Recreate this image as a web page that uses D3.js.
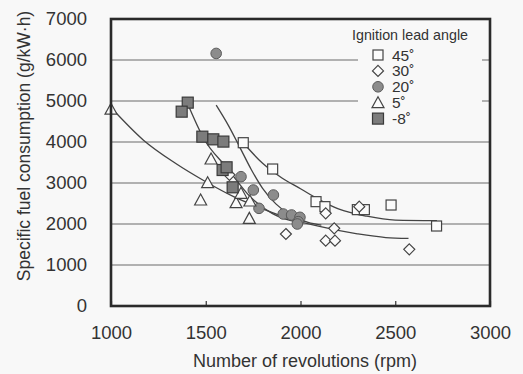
<!DOCTYPE html>
<html><head><meta charset="utf-8">
<script src="https://cdn.jsdelivr.net/npm/d3@7"></script>
<style>body{margin:0;background:#f8f8f8}svg{display:block}</style>
</head><body>
<script>
const xTicks=[1000,1500,2000,2500,3000];
const yTicks=[0,1000,2000,3000,4000,5000,6000,7000];
const legendTitle="Ignition lead angle";
const seriesNames=["45˚","30˚","20˚","5˚","-8˚"];
const s45=[[1698,3983],[1853,3341],[2082,2545],[2129,2423],[2300,2350],[2337,2350],[2478,2463],[2718,1951]];
const s30=[[1625,3200],[1923,1756],[2133,2260],[2310,2423],[2178,1895],[2133,1593],[2182,1593],[2574,1382]];
const s20=[[1555,6160],[1686,3154],[1751,2829],[1857,2707],[1781,2382],[1909,2244],[1953,2220],[1997,2163],[1988,2057],[1983,2000]];
const s5=[[1000,4800],[1528,3585],[1510,3007],[1473,2585],[1660,2520],[1686,2749],[1733,2561],[1730,2138]];
const sm8=[[1405,4960],[1373,4740],[1482,4130],[1540,4065],[1593,4010],[1589,3317],[1610,3383],[1642,2895]];
const curve45=[[1700,3970],[1800,3480],[1900,3130],[2000,2860],[2100,2590],[2200,2370],[2350,2190],[2500,2095],[2720,2080]];
const curve20=[[1555,4900],[1620,4400],[1680,3870],[1740,3330],[1800,2870],[1870,2490],[1950,2210],[2040,2040],[2110,1975]];
const curve5=[[1000,4840],[1170,4050],[1340,3480],[1500,3030],[1650,2660],[1800,2370],[1950,2120],[2100,1940],[2300,1760],[2450,1670],[2570,1650]];
const curvem8=[[1400,4980],[1490,4080],[1610,3380],[1740,2640],[1850,2260],[1950,2080],[2010,2020]];

const W=523,H=374;
const svg=d3.select("body").append("svg").attr("width",W).attr("height",H);
svg.append("rect").attr("width",W).attr("height",H).attr("fill","#f8f8f8");
const x=d3.scaleLinear().domain([1000,3000]).range([111,490]);
const y=d3.scaleLinear().domain([0,7000]).range([306,19]);
const ink="#333";
const font="Arial, 'Liberation Sans', sans-serif";

svg.append("g").selectAll("line").data(yTicks.filter(d=>d>0&&d<7000)).join("line")
 .attr("x1",x(1000)).attr("x2",x(3000)).attr("y1",d=>y(d)).attr("y2",d=>y(d))
 .attr("stroke","#6a6a6a").attr("stroke-width",1.2);

const xAxis=d3.axisBottom(x).tickValues(xTicks).tickSize(-5).tickPadding(20).tickFormat(d3.format("d"));
const gx=svg.append("g").attr("transform",`translate(0,${y(0)})`).call(xAxis);
gx.select(".domain").remove();
gx.selectAll("line").attr("stroke",ink).attr("stroke-width",1.2);
gx.selectAll("text").attr("font-family",font).attr("font-size",18.5).attr("fill",ink);
const yAxis=d3.axisLeft(y).tickValues(yTicks).tickSize(0).tickPadding(24).tickFormat(d3.format("d"));
const gy=svg.append("g").attr("transform",`translate(${x(1000)},0)`).call(yAxis);
gy.select(".domain").remove();
gy.selectAll("text").attr("x",-24).attr("text-anchor","end").attr("font-family",font).attr("font-size",18.5).attr("fill",ink);

svg.append("rect").attr("x",358).attr("y",22).attr("width",124).attr("height",105).attr("fill","#f8f8f8");

const line=d3.line().x(d=>x(d[0])).y(d=>y(d[1])).curve(d3.curveMonotoneX);
[curve45,curve20,curve5,curvem8].forEach(c=>{
 svg.append("path").attr("d",line(c)).attr("fill","none").attr("stroke","#444").attr("stroke-width",1.3);
});

function marker(g,type,cx,cy){
 if(type==="sq"){g.append("rect").attr("x",cx-5).attr("y",cy-5).attr("width",10).attr("height",10).attr("fill","#fbfbfb").attr("stroke","#444").attr("stroke-width",1.2);}
 else if(type==="dia"){g.append("path").attr("d",`M${cx},${cy-5.5}L${cx+5.5},${cy}L${cx},${cy+5.5}L${cx-5.5},${cy}Z`).attr("fill","#fbfbfb").attr("stroke","#444").attr("stroke-width",1.2);}
 else if(type==="cir"){g.append("circle").attr("cx",cx).attr("cy",cy).attr("r",5.3).attr("fill","#8c8c8c").attr("stroke","#5a5a5a").attr("stroke-width",1);}
 else if(type==="tri"){g.append("path").attr("d",`M${cx},${cy-6}L${cx+6},${cy+5}L${cx-6},${cy+5}Z`).attr("fill","#fbfbfb").attr("stroke","#444").attr("stroke-width",1.2);}
 else if(type==="fsq"){g.append("rect").attr("x",cx-5.5).attr("y",cy-5.5).attr("width",11).attr("height",11).attr("fill","#7c7c7c").attr("stroke","#3a3a3a").attr("stroke-width",1.2);}
}
const types=["sq","dia","cir","tri","fsq"];
const allSeries=[s45,s30,s20,s5,sm8];
const gm=svg.append("g");
allSeries.forEach((s,i)=>s.forEach(d=>marker(gm,types[i],x(d[0]),y(d[1]))));

svg.append("rect").attr("x",x(1000)).attr("y",y(7000)).attr("width",x(3000)-x(1000)).attr("height",y(0)-y(7000))
 .attr("fill","none").attr("stroke","#2a2a2a").attr("stroke-width",2.6);

svg.append("text").attr("x",410).attr("y",40).attr("text-anchor","middle").attr("font-family",font).attr("font-size",14.3).attr("fill",ink).text(legendTitle);
const lg=svg.append("g");
seriesNames.forEach((n,i)=>{
 const ly=55+i*15.9;
 marker(lg,types[i],378,ly);
 lg.append("text").attr("x",392).attr("y",ly+5.5).attr("font-family",font).attr("font-size",15.5).attr("fill",ink).text(n);
});

svg.append("text").attr("x",305).attr("y",367).attr("text-anchor","middle").attr("font-family",font).attr("font-size",18).attr("fill",ink).text("Number of revolutions (rpm)");
svg.append("text").attr("transform","translate(30,146) rotate(-90)").attr("text-anchor","middle").attr("font-family",font).attr("font-size",17.5).attr("fill",ink).text("Specific fuel consumption (g/kW·h)");
</script>
</body></html>
